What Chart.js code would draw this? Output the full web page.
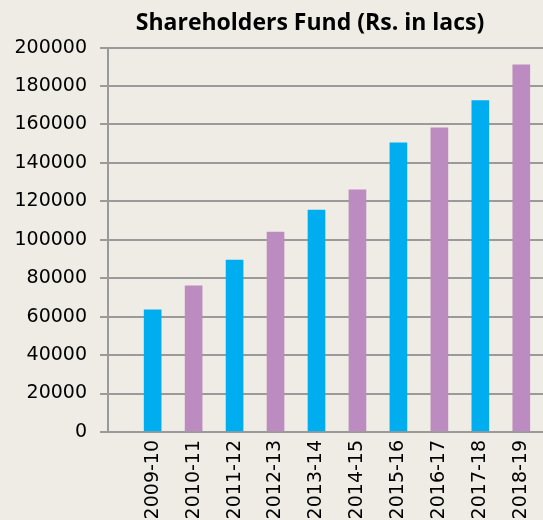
<!DOCTYPE html>
<html>
<head>
<meta charset="utf-8">
<script src="https://cdn.jsdelivr.net/npm/chart.js@4"></script>
<style>
    html, body { margin: 0; padding: 0; background: #efece6; overflow: hidden; }
    #wrap { width: 543px; height: 520px; }
</style>
</head>
<body>
<div id="wrap"><canvas id="fundChart" width="543" height="520"></canvas></div>
<script>
// Shareholders Fund chart
const years = ['2009-10', '2010-11', '2011-12', '2012-13', '2013-14',
               '2014-15', '2015-16', '2016-17', '2017-18', '2018-19'];
const fundValues = [63500, 76000, 89500, 104000, 115500, 126000, 150500, 158300, 172400, 191000];
const barColors = ['#00aeef', '#bc8bbf'];
const yTicks = [0, 20000, 40000, 60000, 80000, 100000, 120000, 140000, 160000, 180000, 200000];

(function() {
    'use strict';

    const ctx = document.getElementById('fundChart');
    const tickFont = { family: 'DejaVu Sans', size: 19 };

    // title in the original sits a bit left of the plot centre
    const titleShift = {
        id: 'titleShift',
        afterLayout: function(chart) {
            chart.titleBlock.left = 77;
            chart.titleBlock.right = chart.width;
        }
    };

    new Chart(ctx, {
        type: 'bar',
        data: {
            datasets: [{
                label: 'Shareholders Fund',
                data: fundValues.map(function(v, i) { return { x: i, y: v }; }),
                backgroundColor: fundValues.map(function(v, i) { return barColors[i % 2]; }),
                borderWidth: 0,
                barThickness: 17
            }]
        },
        plugins: [titleShift],
        options: {
            responsive: false,
            animation: false,
            layout: { padding: 0 },
            plugins: {
                legend: { display: false },
                tooltip: { enabled: false },
                title: {
                    display: true,
                    text: 'Shareholders Fund (Rs. in lacs)',
                    color: '#000',
                    font: { family: 'Open Sans', size: 23, weight: 'bold' },
                    padding: { top: 10, bottom: 10 }
                }
            },
            scales: {
                x: {
                    type: 'linear',
                    offset: false,
                    min: -1.09,
                    max: 9.53,
                    afterBuildTicks: function(scale) {
                        scale.ticks = years.map(function(y, i) { return { value: i }; });
                    },
                    afterFit: function(scale) {
                        scale.height = 88;
                        scale.paddingLeft = 0;
                        scale.paddingRight = 0;
                    },
                    grid: { display: false, drawTicks: false },
                    border: { display: false },
                    ticks: {
                        autoSkip: false,
                        minRotation: 90,
                        maxRotation: 90,
                        padding: 8,
                        color: '#000',
                        font: tickFont,
                        callback: function(value) { return years[value]; }
                    }
                },
                y: {
                    min: 0,
                    max: 200000,
                    afterBuildTicks: function(scale) {
                        scale.ticks = yTicks.map(function(v) { return { value: v }; });
                    },
                    afterFit: function(scale) { scale.width = 108; },
                    grid: { color: '#9a9a9a', lineWidth: 2, tickLength: 8 },
                    border: { color: '#9a9a9a', width: 2 },
                    ticks: {
                        padding: 13,
                        color: '#000',
                        font: tickFont,
                        callback: function(value) { return String(value); }
                    }
                }
            }
        }
    });
})();
</script>
</body>
</html>
